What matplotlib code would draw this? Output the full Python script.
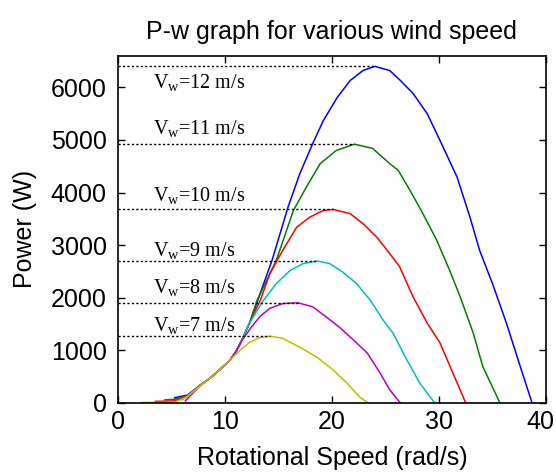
import matplotlib.pyplot as plt
from matplotlib.transforms import ScaledTranslation

# rotational speed (rad/s) and power (W), one pair per wind speed
w12 = [5.3, 6.5, 7.7, 8.6, 9.5, 10.5, 11.1, 11.7, 12.3, 12.8, 14.4, 15.9, 17.0, 18.2, 19.2,
       20.5, 21.7, 22.9, 24.0, 25.4, 26.4, 27.6, 28.9, 30.1, 31.7, 32.9, 33.8, 35.0, 36.3,
       37.6, 38.7]
p12 = [100, 150, 340, 470, 630, 820, 1000, 1250, 1520, 1800, 2710, 3725, 4360, 4930, 5370,
       5810, 6130, 6320, 6400, 6320, 6130, 5880, 5500, 4990, 4290, 3530, 2900, 2270, 1520,
       690, 0]

w11 = [4.4, 5.3, 6.5, 7.7, 8.6, 9.5, 10.5, 11.1, 11.7, 12.3, 13.0, 14.8, 16.4, 17.6, 18.9,
       20.4, 22.1, 23.8, 25.4, 26.2, 27.3, 28.5, 29.8, 31.0, 32.0, 33.2, 34.1, 35.7]
p11 = [60, 70, 140, 340, 470, 630, 820, 1000, 1250, 1520, 1950, 2710, 3660, 4100, 4550,
       4800, 4920, 4840, 4550, 4420, 4040, 3600, 3090, 2520, 2010, 1330, 690, 0]

w10 = [3.5, 5.3, 6.5, 7.7, 8.6, 9.5, 10.5, 11.1, 11.7, 12.3, 13.3, 14.2, 15.4, 16.7, 17.9,
       19.2, 20.1, 21.7, 22.9, 24.2, 25.4, 26.3, 27.6, 28.9, 30.1, 31.3, 32.5]
p10 = [30, 40, 140, 340, 470, 630, 820, 1000, 1250, 1520, 1950, 2460, 2900, 3340, 3530,
       3660, 3680, 3600, 3410, 3150, 2840, 2600, 2010, 1520, 1140, 570, 0]

w9 = [6.0, 6.5, 7.7, 8.6, 9.5, 10.5, 11.1, 11.7, 12.3, 13.6, 14.8, 16.1, 17.3, 18.6, 19.8,
      21.0, 22.3, 23.6, 24.8, 25.7, 27.0, 28.2, 29.6]
p9 = [60, 130, 340, 470, 630, 820, 1000, 1250, 1520, 1950, 2270, 2520, 2650, 2700, 2650,
      2490, 2270, 1950, 1570, 1330, 820, 380, 0]

w8 = [6.3, 7.7, 8.6, 9.5, 10.5, 11.1, 11.7, 12.5, 13.3, 14.2, 15.4, 16.8, 18.2, 19.5, 20.7,
      22.0, 23.3, 24.5, 25.4, 26.4]
p8 = [40, 330, 470, 630, 820, 1000, 1220, 1450, 1650, 1800, 1890, 1905, 1830, 1630, 1440,
      1200, 950, 570, 250, 0]

w7 = [2.3, 5.3, 6.5, 7.7, 8.6, 9.5, 10.5, 11.4, 12.3, 13.2, 14.2, 15.4, 17.0, 18.6, 20.1,
      21.4, 22.6, 23.4]
p7 = [10, 15, 120, 330, 470, 630, 820, 1000, 1150, 1240, 1270, 1230, 1060, 870, 630,
      380, 110, 0]

speeds = [12, 11, 10, 9, 8, 7]
colors = ['#0000ff', '#008000', '#ff0000', '#00bfbf', '#bf00bf', '#bfbf00']
curves = [(w12, p12), (w11, p11), (w10, p10), (w9, p9), (w8, p8), (w7, p7)]
# label text height (W) for each annotation
label_y = [6070, 5200, 3930, 2880, 2180, 1460]

plt.rcParams['mathtext.fontset'] = 'custom'
plt.rcParams['mathtext.rm'] = 'Liberation Serif'

fig = plt.figure(figsize=(5.56, 4.73), dpi=100)
ax = fig.add_axes([0.212, 0.148, 0.770, 0.734])

for (w, p), c in zip(curves, colors):
    ax.plot(w, p, color=c, lw=1.1)

for (w, p), v, ly in zip(curves, speeds, label_y):
    i = p.index(max(p))
    ax.plot([0, w[i]], [p[i], p[i]], color='black', lw=1.0, linestyle=(0, (1.6, 1.6)))
    ax.text(3.3, ly, r'V$_{\rm w}$=%d m/s' % v, family='Liberation Serif', fontsize=14.5,
            va='center', ha='left')

ax.set_xlim(0, 40)
ax.set_ylim(0, 6600)
ax.set_xticks([0, 10, 20, 30, 40])
ax.set_yticks([0, 1000, 2000, 3000, 4000, 5000, 6000])
ax.tick_params(direction='in', top=True, right=True, length=5, width=1, labelsize=18)
ax.tick_params(axis='x', pad=5)
ax.tick_params(axis='y', pad=8)
for s in ax.spines.values():
    s.set_linewidth(1.2)
for lab in ax.get_xticklabels() + ax.get_yticklabels():
    lab.set_family('Liberation Sans')
# the last x label sits at the figure edge, nudge it in a little
last = ax.get_xticklabels()[-1]
last.set_transform(last.get_transform() + ScaledTranslation(-4 / 72, 0, fig.dpi_scale_trans))

ax.set_xlabel('Rotational Speed (rad/s)', family='Liberation Sans', fontsize=18, labelpad=9)
ax.set_ylabel('Power (W)', family='Liberation Sans', fontsize=18, labelpad=10)
ax.set_title('P-w graph for various wind speed', family='Liberation Sans', fontsize=18, pad=12)

fig.savefig('out.png', dpi=100)
